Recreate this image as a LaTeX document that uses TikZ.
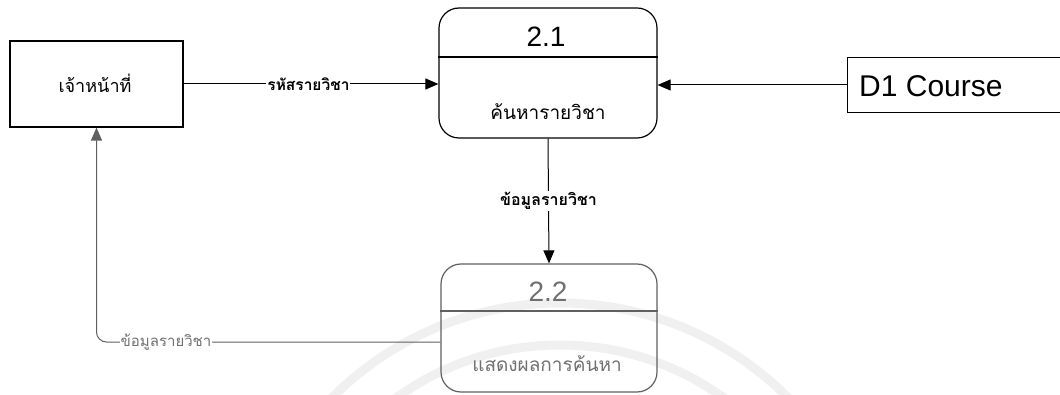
\documentclass[tikz,border=0pt]{standalone}
\usepackage{fontspec}
\setmainfont{Liberation Sans}
\newfontfamily\thai[Script=Thai]{Loma}
\usetikzlibrary{arrows.meta}
\definecolor{fade}{HTML}{707070}
\definecolor{fadeline}{HTML}{606060}
\begin{document}
\begin{tikzpicture}[x=1pt,y=-1pt,
  flow/.style={line width=1pt,-{Triangle[length=13pt,width=11pt]}},
  proc/.style={draw,line width=1.2pt,rounded corners=20pt,inner sep=0pt},
  ent/.style={draw,line width=1.2pt,inner sep=0pt},
  lbl/.style={fill=white,inner sep=1pt,font=\thai\bfseries\fontsize{16}{18}\selectfont},
  num/.style={font=\fontsize{28}{32}\selectfont,inner sep=0pt},
  ttl/.style={font=\thai\fontsize{19}{22}\selectfont,inner sep=0pt}]
\useasboundingbox (0,0) rectangle (1060,395);
% faint watermark
\begin{scope}
\clip (0,0) rectangle (1060,395);
\draw[black!6,line width=9pt] (560,625) circle (322);
\draw[black!6,line width=9pt] (560,625) circle (280);
\end{scope}
% external entity
\node[ent,minimum width=173,minimum height=86] (staff) at (96.5,84) {};
\node[ttl,font=\thai\fontsize{18}{21}\selectfont] (staffT) at (95,83) {เจ้าหน้าที่};
% process 2.1
\node[proc,minimum width=218,minimum height=130] (p1) at (548,73) {};
\draw[line width=1.4pt] (p1.west |- 0,57) -- (p1.east |- 0,57);
\node[num] (p1n) at (546,37) {2.1};
\node[ttl] (p1t) at (548,112) {ค้นหารายวิชา};
% data store
\node[inner sep=0pt,minimum width=222,minimum height=54] (d1) at (959,85) {};
\draw[line width=1.2pt] (d1.north east) -- (d1.north west) -- (d1.south west) -- (d1.south east);
\node[anchor=west,inner sep=0pt,font=\fontsize{30}{34}\selectfont] (d1t) at (859,86) {D1 Course};
% process 2.2
\node[proc,draw=fadeline,minimum width=216,minimum height=128] (p2) at (549,328) {};
\draw[fadeline,line width=1.3pt] (p2.west |- 0,311) -- (p2.east |- 0,311);
\node[num,text=fade] (p2n) at (548,292) {2.2};
\node[ttl,text=fade] (p2t) at (547,364) {แสดงผลการค้นหา};
% flows
\draw[flow] (staff.east) -- (p1.west |- staff.east)
  node[lbl,pos=0.49,font=\thai\bfseries\fontsize{15.5}{18}\selectfont] (f1) {รหัสรายวิชา};
\draw[flow] (d1.west) -- (p1.east |- d1.west);
\draw[flow] (p1.south) -- (p2.north)
  node[lbl,midway] (f3) {ข้อมูลรายวิชา};
\draw[flow,fadeline,rounded corners=10pt] (p2.west |- 0,342) -| (staff.south);
\node[lbl,text=fade,font=\thai\fontsize{15}{18}\selectfont] (f4) at (166,342) {ข้อมูลรายวิชา};
\end{tikzpicture}
\end{document}
